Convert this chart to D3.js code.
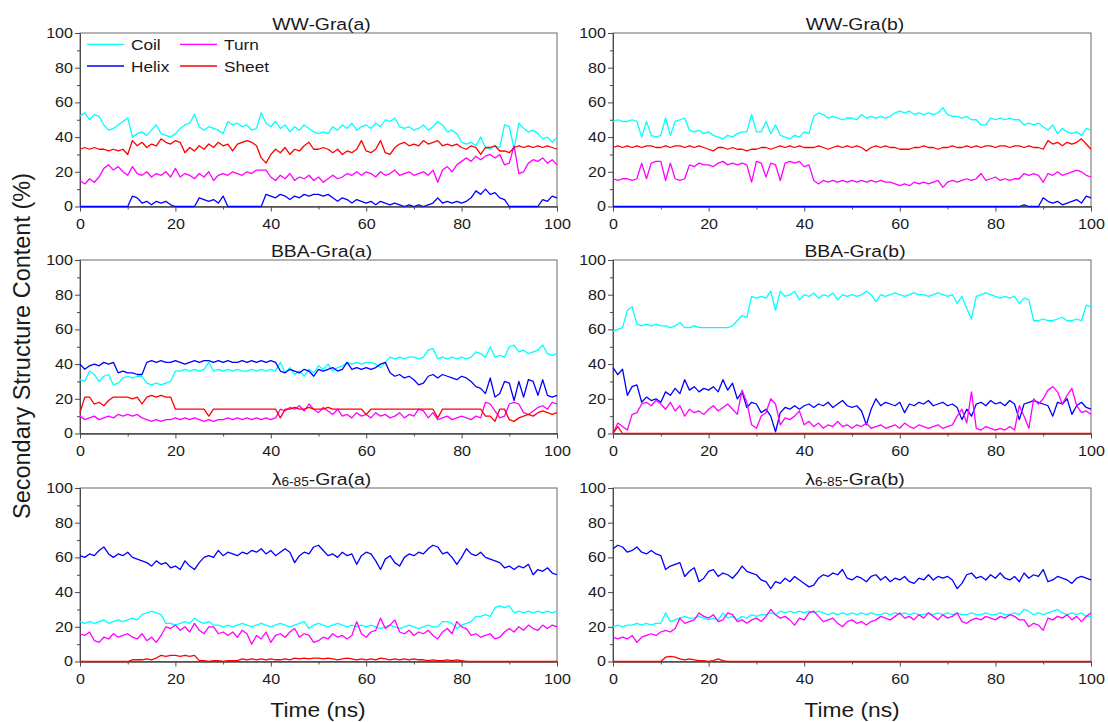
<!DOCTYPE html>
<html>
<head>
<meta charset="utf-8">
<script src="https://cdn.jsdelivr.net/npm/d3@7"></script>
<style>
  body { margin: 0; background: #ffffff; }
  svg text { font-family: "Liberation Sans", Arial, sans-serif; fill: #1a1a1a; }
</style>
</head>
<body>
<svg id="chart" width="1108" height="722"></svg>
<script>
// Simulation time, ns (one sample per ns)
const time = d3.range(0, 101);

const seriesNames = ["Coil", "Helix", "Turn", "Sheet"];
const seriesColors = ["#00ffff", "#0000ff", "#ff00ff", "#ff0000"];
const yTicks = [0, 20, 40, 60, 80, 100];
const xTicks = [0, 20, 40, 60, 80, 100];
const yMinor = [10, 30, 50, 70, 90];
const xMinor = [10, 30, 50, 70, 90];

// ---- WW-Gra(a) ----
const wwA_coil = [52,54,50,53,52,47,44,45,47,49, 51,40,42,43,41,44,47,42,41,40,
  42,45,47,48,53,46,44,46,45,44, 42,49,47,48,46,47,44,45,54,48,
  46,49,45,47,43,46,44,47,45,43, 42,43,42,46,44,47,45,48,44,46,
  47,45,48,46,50,49,51,46,45,46, 44,45,47,44,46,49,47,43,44,42,
  37,36,37,35,40,34,33,35,34,47, 46,33,48,45,43,44,42,39,40,37, 40];
const wwA_helix = [0,0,0,0,0,0,0,0,0,0, 0,6,5,2,3,1,3,2,3,1,
  0,0,0,0,0,5,4,3,4,2, 6,0,0,0,0,0,0,0,0,7,
  6,5,7,6,4,6,5,7,6,7, 7,6,7,5,3,5,4,2,4,3,
  2,3,1,3,2,1,2,1,0,1, 0,1,0,1,2,5,2,3,2,3,
  2,3,5,9,7,10,7,8,5,4, 0,0,0,0,0,0,0,4,3,6, 5];
const wwA_turn = [15,13,16,14,17,22,24,21,23,20, 18,23,19,18,20,17,19,18,20,17,
  22,17,19,18,16,19,17,20,15,18, 19,18,20,19,18,20,19,21,21,21,
  17,15,18,16,19,15,17,16,18,15, 17,14,16,18,16,17,19,18,20,18,
  20,19,17,20,18,19,21,18,19,20, 18,19,20,18,21,14,21,23,20,24,
  26,28,26,29,27,29,30,28,30,24, 25,35,19,20,25,27,26,28,25,27, 24];
const wwA_sheet = [33,34,33,34,33,33,32,33,32,33, 30,38,35,37,34,36,35,39,37,36,
  38,37,31,34,32,35,33,36,34,37, 35,36,32,36,37,38,37,35,28,25,
  30,33,31,34,30,33,32,35,37,33, 33,34,33,31,33,30,32,31,33,38,
  32,31,33,38,31,30,34,36,37,35, 36,35,38,36,37,38,35,36,35,36,
  34,33,35,34,30,34,34,35,32,32, 31,34,35,34,35,34,35,34,35,34, 33];

// ---- WW-Gra(b) ----
const wwB_coil = [49,50,49,49,50,49,40,49,41,40, 41,51,41,49,50,51,44,43,44,42,
  43,41,40,39,41,40,42,43,43,53, 43,43,49,42,47,41,40,39,41,40,
  43,42,52,54,53,51,52,51,50,51, 51,50,53,51,52,51,52,51,52,54,
  55,54,55,53,54,53,54,53,54,57, 53,52,52,51,52,50,50,47,47,51,
  50,51,50,51,50,50,47,48,47,48, 46,44,47,42,45,43,42,43,41,45, 44];
const wwB_helix = [0,0,0,0,0,0,0,0,0,0, 0,0,0,0,0,0,0,0,0,0,
  0,0,0,0,0,0,0,0,0,0, 0,0,0,0,0,0,0,0,0,0,
  0,0,0,0,0,0,0,0,0,0, 0,0,0,0,0,0,0,0,0,0,
  0,0,0,0,0,0,0,0,0,0, 0,0,0,0,0,0,0,0,0,0,
  0,0,0,0,0,0,1,0,0,0, 5,3,2,3,1,2,3,4,2,6, 5];
const wwB_turn = [16,15,16,16,15,16,25,16,25,26, 26,15,25,16,15,16,24,23,25,24,
  24,23,25,26,24,25,24,25,24,14, 26,25,17,25,24,15,25,26,25,26,
  23,24,15,13,15,14,15,14,15,14, 15,14,15,14,15,14,15,14,14,13,
  12,13,12,14,13,14,13,14,15,11, 14,15,14,15,16,15,16,19,15,16,
  17,15,16,15,16,16,19,18,19,18, 14,19,18,20,18,19,20,21,20,18, 17];
const wwB_sheet = [34,35,34,35,34,35,34,35,35,34, 34,35,34,35,35,34,35,34,35,34,
  33,32,34,34,33,34,33,33,32,33, 33,34,34,33,34,35,34,35,34,35,
  34,34,34,35,34,33,34,35,34,35, 34,35,34,32,34,35,34,35,34,34,
  33,33,33,34,34,35,34,34,33,34, 34,35,34,34,35,34,35,34,35,35,
  34,35,35,34,35,35,34,35,34,34, 33,38,36,37,35,37,36,37,39,36, 33];

// ---- BBA-Gra(a) ----
const bbaA_coil = [31,30,36,34,30,33,34,28,29,32, 33,32,33,33,29,28,29,28,29,30,
  36,36,37,36,37,36,37,41,36,37, 36,37,36,37,36,36,37,36,37,36,
  37,36,41,35,38,34,36,33,37,35, 39,37,40,36,38,39,41,40,41,40,
  41,41,40,38,41,44,43,44,43,44, 44,43,44,48,49,43,44,43,44,43,
  44,43,44,47,46,44,50,44,45,44, 50,51,47,48,46,47,48,51,46,45, 46];
const bbaA_helix = [40,37,39,40,39,41,40,41,35,36, 35,35,34,34,41,42,41,42,41,41,
  42,41,40,41,42,41,42,42,41,42, 41,42,41,41,42,41,42,41,42,41,
  42,41,36,35,37,36,35,37,36,33, 37,36,37,38,36,37,41,37,38,37,
  38,37,38,40,41,35,33,34,32,33, 31,28,29,33,34,32,34,33,32,31,
  33,32,30,27,26,23,32,21,23,30, 29,19,30,21,31,30,22,31,22,21, 22];
const bbaA_turn = [10,8,9,10,8,9,10,9,11,10, 11,10,11,9,8,7,8,7,8,8,
  9,8,9,8,9,8,7,8,7,8, 8,9,8,9,8,9,8,9,8,9,
  8,9,14,13,15,14,16,13,17,14, 12,15,13,11,14,10,11,9,12,10,
  11,9,12,10,11,9,10,12,9,11, 10,14,13,9,12,8,9,10,8,9,
  10,9,8,10,9,18,17,13,9,10, 17,18,17,12,11,13,15,16,14,18, 17];
const bbaA_sheet = [12,21,21,17,18,16,19,21,21,21, 21,20,21,17,21,22,21,22,21,21,
  14,14,14,14,14,14,14,10,14,14, 14,14,14,14,14,14,14,14,14,14,
  14,14,9,14,14,15,14,14,15,14, 14,14,15,14,14,14,14,14,14,14,
  11,14,14,14,14,14,14,14,14,14, 14,14,14,14,14,9,14,14,14,14,
  14,14,14,14,14,10,10,7,14,14, 8,7,9,10,11,10,12,13,12,11, 12];

// ---- BBA-Gra(b) ----
const bbaB_coil = [59,60,61,71,73,63,62,63,62,63, 62,62,61,62,64,61,61,62,61,61,
  61,61,61,61,61,62,65,68,67,79, 78,79,78,82,71,82,79,80,82,77,
  80,79,81,78,80,79,81,77,80,79, 80,79,80,82,80,76,80,79,80,81,
  80,79,80,81,80,80,79,80,81,80, 79,80,75,79,72,66,79,80,81,80,
  79,78,79,78,79,75,78,77,65,65, 66,65,65,66,67,65,65,66,65,74, 73];
const bbaB_helix = [38,34,37,22,27,28,18,21,19,20, 18,24,22,26,23,31,25,27,24,26,
  25,27,24,31,25,29,20,24,15,18, 17,12,14,10,1,12,15,14,16,14,
  16,17,15,17,16,18,15,17,19,16, 15,16,13,5,14,20,16,18,17,16,
  18,12,17,16,18,17,19,16,17,18, 16,17,15,8,14,10,17,18,16,19,
  17,18,16,19,17,8,17,18,19,18, 17,16,10,18,17,20,11,16,18,15, 14];
const bbaB_turn = [0,6,4,2,11,12,17,18,16,19, 17,14,18,13,16,10,14,12,13,11,
  14,16,13,15,17,14,11,25,18,5, 3,10,12,20,17,5,9,8,10,13,
  5,7,4,6,3,5,4,7,4,5, 3,5,4,6,3,4,5,3,4,5,
  3,6,4,3,5,4,3,4,5,3, 4,5,10,14,6,24,3,2,4,3,
  2,3,2,4,2,16,10,3,20,17, 20,25,27,24,17,22,26,16,12,13, 11];
const bbaB_sheet = [0,4,0,0,0,0,0,0,0,0, 0,0,0,0,0,0,0,0,0,0,
  0,0,0,0,0,0,0,0,0,0, 0,0,0,0,0,0,0,0,0,0,
  0,0,0,0,0,0,0,0,0,0, 0,0,0,0,0,0,0,0,0,0,
  0,0,0,0,0,0,0,0,0,0, 0,0,0,0,0,0,0,0,0,0,
  0,0,0,0,0,0,0,0,0,0, 0,0,0,0,0,0,0,0,0,0, 0];

// ---- λ6-85-Gra(a) ----
const lamA_coil = [23,22,23,22,23,24,22,23,24,23, 24,25,24,27,28,29,28,27,22,22,
  21,22,23,22,25,23,22,23,21,21, 20,21,20,21,22,21,20,21,22,21,
  20,21,22,21,20,21,22,23,19,21, 22,21,20,21,22,21,20,21,20,21,
  20,21,20,19,20,21,20,19,20,21, 20,19,20,21,20,20,23,23,22,19,
  21,22,23,26,26,27,26,31,32,31, 32,28,29,28,29,28,29,28,29,28, 29];
const lamA_helix = [61,60,62,61,64,66,62,60,62,61, 63,60,59,58,57,55,58,56,57,54,
  55,53,58,55,53,57,60,61,60,64, 61,63,62,61,63,62,64,63,65,62,
  64,61,63,65,63,57,61,63,62,66, 67,64,61,62,60,63,61,62,56,61,
  63,62,58,53,59,61,57,55,60,62, 61,63,62,65,67,66,62,63,60,56,
  60,65,62,61,63,60,59,58,57,54, 55,53,55,54,56,50,53,52,54,51, 50];
const lamA_turn = [16,15,17,12,11,14,13,16,14,15, 16,14,13,16,12,14,11,15,20,19,
  21,18,20,17,22,18,16,20,20,16, 17,15,17,14,18,16,10,15,13,17,
  11,15,16,14,17,19,14,16,15,11, 12,14,13,16,14,15,13,15,23,16,
  14,17,18,25,19,21,24,17,16,18, 15,17,16,18,15,13,17,19,16,23,
  20,19,15,16,14,15,16,13,14,17, 19,17,20,18,21,19,18,21,19,21, 20];
const lamA_sheet = [0,0,0,0,0,0,0,0,0,0, 0,1,1,1,1.5,1,2,3.5,3,3.5,
  3.5,3,3.5,3,3.5,0.5,0.5,0,0.5,0.5, 0,0.5,0.5,0.5,1.5,1,1.5,1,1.5,1,
  1.5,1,1,1.5,1,2,1.5,2,1.5,2, 2,1.5,2,1.5,1,1.5,2,1.5,1,1.5,
  1,1.5,1,2,1.5,1,1.5,1,1.5,1, 1.5,1,1,0.5,1,0.5,0.5,1,0.5,1,
  0.5,0,0,0,0,0,0,0,0,0, 0,0,0,0,0,0,0,0,0,0, 0];

// ---- λ6-85-Gra(b) ----
const lamB_coil = [20,21,20,21,21,22,21,22,21,22, 22,28,23,24,25,26,25,25,26,25,
  24,25,24,28,25,26,24,26,25,27, 26,27,27,28,27,29,28,29,28,29,
  28,29,28,29,28,27,28,27,28,27, 28,27,28,27,28,27,27,28,27,28,
  27,28,27,28,27,27,28,27,28,27, 28,27,28,27,27,28,27,27,28,27,
  27,28,27,27,28,27,30,29,27,28, 27,28,29,30,28,27,28,27,28,26, 26];
const lamB_helix = [65,67,66,63,64,66,63,62,64,62, 61,53,55,56,57,49,52,54,46,48,
  52,53,49,51,50,48,51,55,52,51, 50,47,46,42,46,45,48,46,49,47,
  45,43,44,48,50,49,51,50,53,48, 47,49,48,46,49,50,47,49,46,48,
  47,49,46,45,48,47,50,47,49,48, 49,47,42,45,50,51,48,49,47,50,
  48,51,48,47,49,46,51,48,50,49, 53,46,47,49,48,47,45,48,49,48, 47];
const lamB_turn = [14,13,14,13,15,11,14,15,16,15, 17,18,17,19,25,22,23,24,28,26,
  25,27,23,24,28,27,23,24,22,24, 25,23,26,30,27,25,26,24,21,25,
  24,28,29,26,23,24,25,22,20,23, 24,22,23,21,23,24,26,25,24,26,
  28,25,26,24,27,25,28,26,24,27, 25,26,28,23,22,24,25,24,26,25,
  24,26,25,27,26,24,24,20,22,21, 18,25,24,26,25,27,24,26,23,26, 28];
const lamB_sheet = [0,0,0,0,0,0,0,0,0,0, 0,2.5,3,2.5,1.5,1,1.5,1,0.5,0.5,
  0,0.5,1.5,0.5,0,0,0,0,0,0, 0,0,0,0,0,0,0,0,0,0,
  0,0,0,0,0,0,0,0,0,0, 0,0,0,0,0,0,0,0,0,0,
  0,0,0,0,0,0,0,0,0,0, 0,0,0,0,0,0,0,0,0,0,
  0,0,0,0,0,0,0,0,0,0, 0,0,0,0,0,0,0,0,0,0, 0];

// Panel titles: [main, subscript, tail]
const panels = [
  { title: ["WW-Gra(a)", "", ""],  data: [wwA_coil, wwA_helix, wwA_turn, wwA_sheet], col: 0, row: 0, legend: true },
  { title: ["WW-Gra(b)", "", ""],  data: [wwB_coil, wwB_helix, wwB_turn, wwB_sheet], col: 1, row: 0 },
  { title: ["BBA-Gra(a)", "", ""], data: [bbaA_coil, bbaA_helix, bbaA_turn, bbaA_sheet], col: 0, row: 1 },
  { title: ["BBA-Gra(b)", "", ""], data: [bbaB_coil, bbaB_helix, bbaB_turn, bbaB_sheet], col: 1, row: 1 },
  { title: ["λ", "6-85", "-Gra(a)"], data: [lamA_coil, lamA_helix, lamA_turn, lamA_sheet], col: 0, row: 2 },
  { title: ["λ", "6-85", "-Gra(b)"], data: [lamB_coil, lamB_helix, lamB_turn, lamB_sheet], col: 1, row: 2 }
];

// Layout
const colX = [80, 613];
const colW = [477, 478];
const rowY = [33, 260, 488];
const plotH = 173.5;
const axisColor = "#4a4a4a";
const kx = 1.15;          // horizontal widening of lettering
const fontStack = '"Liberation Sans", Arial, sans-serif';

const svg = d3.select("#chart");

function wideText(parent, x, y, str, size, anchor, k) {
  return parent.append("text")
    .attr("transform", `translate(${x},${y}) scale(${k || kx},1)`)
    .attr("font-size", size)
    .attr("text-anchor", anchor || "start")
    .text(str);
}

panels.forEach(p => {
  const x0 = colX[p.col], w = colW[p.col], y0 = rowY[p.row];
  const g = svg.append("g").attr("transform", `translate(${x0},${y0})`);
  const x = d3.scaleLinear().domain([0, 100]).range([0, w]);
  const y = d3.scaleLinear().domain([0, 100]).range([plotH, 0]);

  // frame
  g.append("rect").attr("x", 0).attr("y", 0).attr("width", w).attr("height", plotH)
    .attr("fill", "none").attr("stroke", "#6a6a6a").attr("stroke-width", 1);

  // minor ticks
  g.append("g").attr("class", "minor")
    .call(d3.axisLeft(y).tickValues(yMinor).tickSize(3).tickSizeOuter(0).tickFormat(""));
  g.append("g").attr("class", "minor").attr("transform", `translate(0,${plotH})`)
    .call(d3.axisBottom(x).tickValues(xMinor).tickSize(3).tickSizeOuter(0).tickFormat(""));

  // major axes
  const ya = g.append("g")
    .call(d3.axisLeft(y).tickValues(yTicks).tickSize(5).tickPadding(2).tickSizeOuter(0));
  const xa = g.append("g").attr("transform", `translate(0,${plotH})`)
    .call(d3.axisBottom(x).tickValues(xTicks).tickSize(5).tickPadding(7.5).tickSizeOuter(0));

  g.selectAll(".domain, .tick line").attr("stroke", axisColor);
  [ya, xa].forEach(a => a.attr("font-size", 14).attr("font-family", fontStack));
  ya.selectAll("text").attr("fill", "#1a1a1a").attr("x", -7 / kx).attr("transform", `scale(${kx},1)`);
  xa.selectAll("text").attr("fill", "#1a1a1a").attr("transform", `scale(${kx},1)`);

  // series
  const line = d3.line().x((d, i) => x(time[i])).y(d => y(d));
  p.data.forEach((arr, k) => {
    g.append("path").datum(arr)
      .attr("d", line)
      .attr("fill", "none")
      .attr("stroke", seriesColors[k])
      .attr("stroke-width", 1.3)
      .attr("stroke-linejoin", "round");
  });

  // title
  const t = g.append("text")
    .attr("transform", `translate(${w / 2 + 3},${-3.5}) scale(1.14,1)`)
    .attr("font-size", 17)
    .attr("text-anchor", "middle");
  t.append("tspan").text(p.title[0]);
  if (p.title[1]) {
    t.append("tspan").attr("font-size", 12).attr("dy", 1).text(p.title[1]);
    t.append("tspan").attr("dy", -1).text(p.title[2]);
  }

  // legend
  if (p.legend) {
    const items = [
      { i: 0, lx: 7, ly: 11.3 }, { i: 1, lx: 7, ly: 33 },
      { i: 2, lx: 100, ly: 11.3 }, { i: 3, lx: 100, ly: 33 }
    ];
    items.forEach(it => {
      g.append("line")
        .attr("x1", x(0) + it.lx).attr("x2", x(0) + it.lx + 37)
        .attr("y1", it.ly).attr("y2", it.ly)
        .attr("stroke", seriesColors[it.i]).attr("stroke-width", 1.3);
      wideText(g, it.lx + 44, it.ly + 5.5, seriesNames[it.i], 15, "start");
    });
  }
});

// shared axis titles
wideText(svg, 318, 717, "Time (ns)", 20, "middle", 1.14);
wideText(svg, 852, 717, "Time (ns)", 20, "middle", 1.14);
svg.append("text")
  .attr("transform", "translate(30,346) rotate(-90)")
  .attr("font-size", 23)
  .attr("text-anchor", "middle")
  .attr("textLength", 346)
  .attr("lengthAdjust", "spacingAndGlyphs")
  .text("Secondary Structure Content (%)");
</script>
</body>
</html>
